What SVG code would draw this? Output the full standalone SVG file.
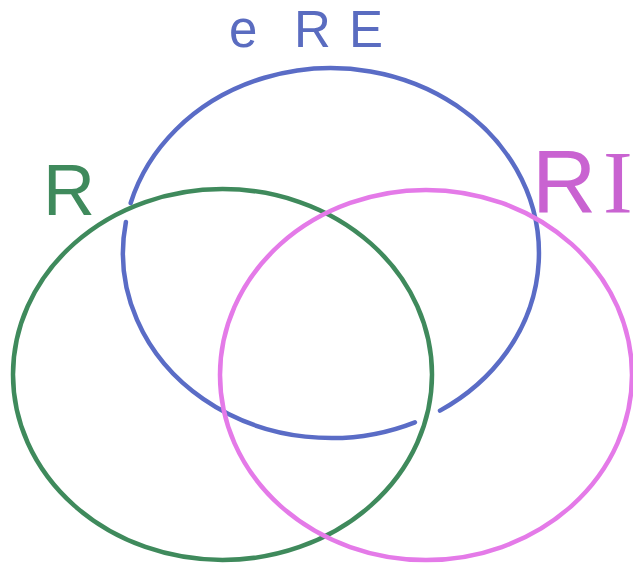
<svg xmlns="http://www.w3.org/2000/svg" width="633" height="565" viewBox="0 0 633 565">
<style>
.c{fill:none;stroke-width:4.5;stroke-linecap:round}
.lbl{font-family:"Liberation Sans",Arial,sans-serif;font-weight:normal}
.t1{font-size:51px;fill:#5a6cc0}
.t2{font-size:72px;fill:#3f8a5c}
.t3{font-size:89px;fill:#c963d1}
.serif{font-family:"Liberation Serif","Times New Roman",serif}
</style>
<rect width="633" height="565" fill="#ffffff"/>
<g id="connectors"></g>
<g id="set-ere">
<path class="c" stroke="#5a6cc6" d="M 440 410.6 A 208 185 0 1 0 130.7 203 M 125.9 222 A 208 185 0 0 0 414.9 422.3"/>
<text class="lbl t1" y="47"><tspan x="229">e</tspan><tspan x="294">R</tspan><tspan x="349">E</tspan></text>
</g>
<g id="set-r">
<ellipse class="c" stroke="#3f8a5c" cx="222.5" cy="374.5" rx="209.5" ry="185.5"/>
<text class="lbl t2" x="43" y="215">R</text>
</g>
<g id="set-ri">
<ellipse class="c" stroke="#e47ae8" cx="426" cy="375" rx="206" ry="185"/>
<text class="lbl t3" y="212"><tspan x="532">R</tspan><tspan class="serif" x="603">I</tspan></text>
</g>
</svg>
